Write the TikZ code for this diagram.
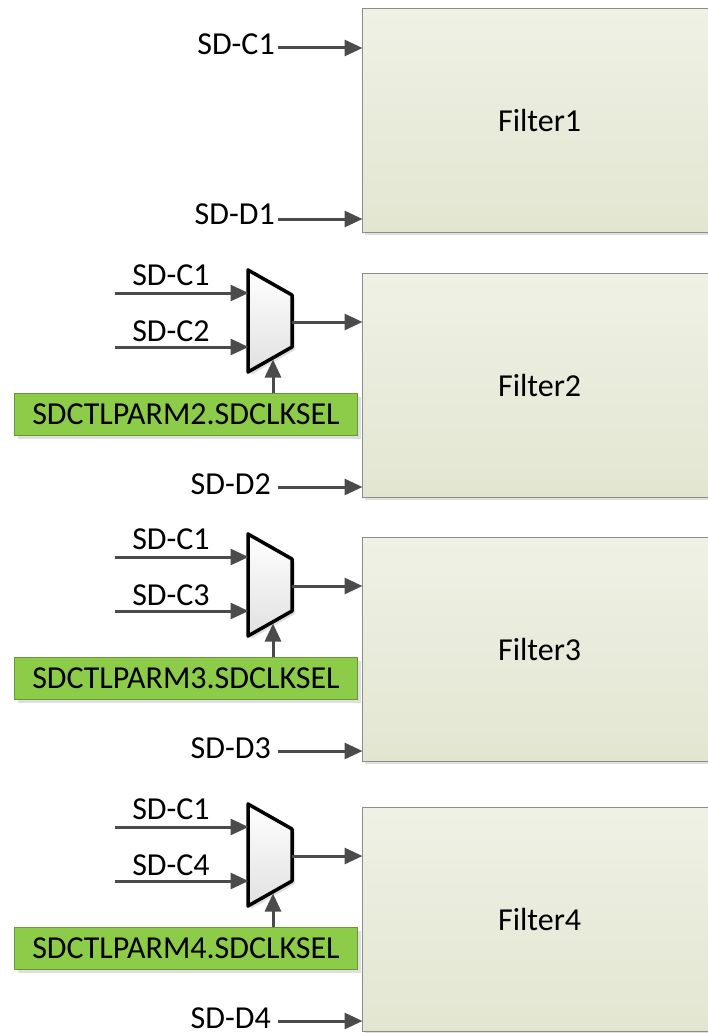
\documentclass[tikz,border=0pt]{standalone}
\usepackage{fontspec}
\setmainfont{Carlito}
\usetikzlibrary{arrows.meta,shadows,calc}
\definecolor{arr}{RGB}{75,75,75}
\definecolor{ftop}{RGB}{239,241,229}
\definecolor{fbot}{RGB}{226,230,209}
\definecolor{fborder}{RGB}{140,140,140}
\definecolor{gfill}{RGB}{140,204,72}
\definecolor{gborder}{RGB}{105,150,55}
\begin{document}
\begin{tikzpicture}[x=1pt,y=-1pt,
  font=\fontsize{32}{38}\selectfont,
  filterbox/.style={draw=fborder, line width=1.2pt, top color=ftop, bottom color=fbot,
    minimum width=354pt, minimum height=224pt, anchor=north west, inner sep=0pt,
    drop shadow={shadow xshift=2pt, shadow yshift=-2pt, opacity=0.25}},
  selbox/.style={draw=gborder, line width=1pt, fill=gfill,
    minimum width=343pt, minimum height=42pt, anchor=north west, inner sep=0pt,
    drop shadow={shadow xshift=3pt, shadow yshift=-3pt, opacity=0.25}},
  muxshape/.style={draw=black, line width=3.5pt, line join=round, top color=white, bottom color=black!12,
    drop shadow={shadow xshift=3pt, shadow yshift=-3pt, opacity=0.25}},
  lbl/.style={inner sep=0pt, text=black},
  sig/.style={draw=arr, line width=3pt, -{Triangle[length=18pt,width=16pt]}, shorten >=-0.5pt},
]
\useasboundingbox (0,0) rectangle (707,1033);

% Block 1
\node[filterbox] (f1) at (362,8) {Filter1};
\node[lbl, anchor=east] (l1c) at (275,44) {SD-C1};
\node[lbl, anchor=east] (l1d) at (275,214) {SD-D1};
\coordinate (s1c) at (278,48);
\coordinate (s1d) at (278,219);
\draw[sig] (s1c) -- (s1c -| f1.west);
\draw[sig] (s1d) -- (s1d -| f1.west);

% Blocks 2-4
\foreach \i/\b in {2/273, 3/537, 4/807}{
  \node[filterbox] (f\i) at (362,\b) {Filter\i};
  \filldraw[muxshape] (248,\b-3) -- (292,\b+22) -- (292,\b+74) -- (248,\b+99) -- cycle;
  \coordinate (mi1\i) at (248,\b+20);
  \coordinate (mi2\i) at (248,\b+74);
  \coordinate (mo\i) at (292,\b+49);
  \coordinate (ms\i) at (273,\b+87);
  \coordinate (in1\i) at (115,\b+20);
  \coordinate (in2\i) at (115,\b+74);
  \node[lbl] (lc1\i) at (171,\b+2) {SD-C1};
  \node[lbl] (lc2\i) at (171,\b+58) {SD-C\i};
  \draw[sig] (in1\i) -- (mi1\i);
  \draw[sig] (in2\i) -- (mi2\i);
  \draw[sig] (mo\i) -- (mo\i -| f\i.west);
  \node[selbox] (sel\i) at (14,\b+120) {SDCTLPARM\i.SDCLKSEL};
  \draw[sig] (ms\i |- sel\i.north) -- (ms\i);
  \node[lbl, anchor=east] (ld\i) at (271,\b+211) {SD-D\i};
  \coordinate (sd\i) at (278,\b+214);
  \draw[sig] (sd\i) -- (sd\i -| f\i.west);
}
\end{tikzpicture}
\end{document}
